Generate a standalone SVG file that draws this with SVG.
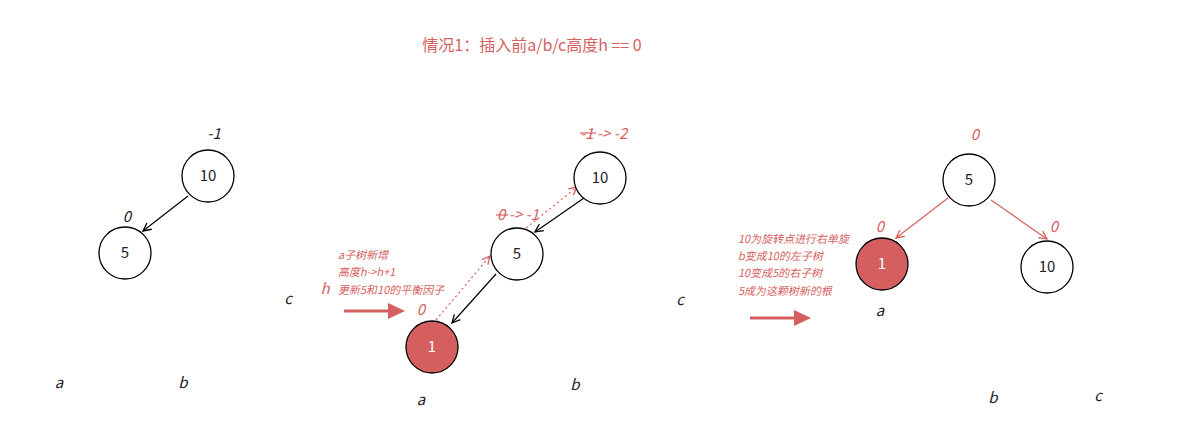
<svg xmlns="http://www.w3.org/2000/svg" width="1188" height="435" viewBox="0 0 1188 435">
<style>
text{font-family:"Noto Sans CJK SC","Noto Sans",sans-serif}
.n{fill:#fff;stroke:#000;stroke-width:1.3}
.r{fill:#d55f5f;stroke:#000;stroke-width:1.3}
.nt{font-size:15px;fill:#222;text-anchor:middle}
.rt{font-size:15px;fill:#fff;text-anchor:middle}
.bf{font-size:15px;font-style:italic;fill:#222;text-anchor:middle}
.rf{font-size:15px;font-style:italic;fill:#d55f5f;text-anchor:middle}
.rs{font-size:15px;font-style:italic;fill:#d55f5f;text-anchor:start}
.note{font-size:11px;fill:#d55f5f}
.ek{stroke:#000;stroke-width:1.2;fill:none}
.er{stroke:#d55f5f;stroke-width:1.2;fill:none}
.ed{stroke:#d55f5f;stroke-width:1.2;fill:none;stroke-dasharray:2 3}
.big{stroke:#d55f5f;stroke-width:3;fill:none}
</style>
<defs>
<marker id="ak" viewBox="0 0 10 10" refX="9" refY="5" markerWidth="10" markerHeight="10" orient="auto" markerUnits="userSpaceOnUse"><path d="M1,1 L9,5 L1,9" fill="none" stroke="#000" stroke-width="1.3"/></marker>
<marker id="ar" viewBox="0 0 10 10" refX="9" refY="5" markerWidth="10" markerHeight="10" orient="auto" markerUnits="userSpaceOnUse"><path d="M1,1 L9,5 L1,9" fill="none" stroke="#d55f5f" stroke-width="1.3"/></marker>
</defs>
<rect width="1188" height="435" fill="#fff"/>
<text x="532" y="51" font-size="16" fill="#d55f5f" text-anchor="middle">情况1：插入前a/b/c高度h == 0</text>

<g id="connectors">
<line class="ek" x1="188" y1="196" x2="143" y2="231" marker-end="url(#ak)"/>
<line class="ek" x1="584" y1="198" x2="535" y2="232" marker-end="url(#ak)"/>
<line class="ek" x1="496" y1="274" x2="452" y2="323" marker-end="url(#ak)"/>
<line class="ed" x1="436" y1="320" x2="490" y2="256" marker-end="url(#ar)"/>
<line class="ed" x1="526" y1="228" x2="577" y2="187" marker-end="url(#ar)"/>
<line class="er" x1="948" y1="198" x2="896" y2="238" marker-end="url(#ar)"/>
<line class="er" x1="991" y1="200" x2="1047" y2="239" marker-end="url(#ar)"/>
<line class="big" x1="344" y1="311" x2="390" y2="311"/>
<polygon points="388,303 405,311 388,319" fill="#d55f5f"/>
<line class="big" x1="750" y1="318" x2="796" y2="318"/>
<polygon points="794,310 811,318 794,326" fill="#d55f5f"/>
</g>

<g id="g1-n10"><circle class="n" cx="208" cy="176" r="26"/><text class="nt" x="208" y="181">10</text><text class="bf" x="214" y="139">-1</text></g>
<g id="g1-n5"><circle class="n" cx="125" cy="253" r="26"/><text class="nt" x="125" y="258">5</text><text class="bf" x="127" y="222">0</text></g>
<g id="g1-labels"><text class="bf" x="59" y="388">a</text><text class="bf" x="183" y="388">b</text><text class="bf" x="288" y="304">c</text></g>

<g id="g2-n10"><circle class="n" cx="600" cy="178" r="26"/><text class="nt" x="600" y="183">10</text>
<text class="rs" x="580" y="139">-1 -&gt; -2</text><line x1="580" y1="133" x2="596" y2="133" stroke="#d55f5f" stroke-width="1.2"/></g>
<g id="g2-n5"><circle class="n" cx="517" cy="254" r="26"/><text class="nt" x="517" y="259">5</text>
<text class="rs" x="497" y="220">0 -&gt; -1</text><line x1="496" y1="215" x2="508" y2="215" stroke="#d55f5f" stroke-width="1.2"/></g>
<g id="g2-n1"><circle class="r" cx="432" cy="347" r="26"/><text class="rt" x="432" y="352">1</text><text class="rf" x="421" y="315">0</text></g>
<g id="g2-labels">
<text class="note" transform="translate(338,259) skewX(-12)">a子树新增</text>
<text class="note" transform="translate(338,276) skewX(-12)">高度h-&gt;h+1</text>
<text class="note" transform="translate(338,294) skewX(-12)">更新5和10的平衡因子</text>
<text class="rf" x="325" y="294" font-size="17">h</text>
<text class="bf" x="421" y="405">a</text><text class="bf" x="575" y="390">b</text><text class="bf" x="680" y="305">c</text>
</g>

<g id="g3-n5"><circle class="n" cx="969" cy="180" r="26"/><text class="nt" x="969" y="185">5</text><text class="rf" x="975" y="140">0</text></g>
<g id="g3-n1"><circle class="r" cx="882" cy="264" r="26"/><text class="rt" x="882" y="269">1</text><text class="rf" x="880" y="232">0</text></g>
<g id="g3-n10"><circle class="n" cx="1047" cy="267" r="26"/><text class="nt" x="1047" y="272">10</text><text class="rf" x="1054" y="232">0</text></g>
<g id="g3-labels">
<text class="note" transform="translate(738,243) skewX(-12)">10为旋转点进行右单旋</text>
<text class="note" transform="translate(738,260) skewX(-12)">b变成10的左子树</text>
<text class="note" transform="translate(738,277) skewX(-12)">10变成5的右子树</text>
<text class="note" transform="translate(738,295) skewX(-12)">5成为这颗树新的根</text>
<text class="bf" x="880" y="316">a</text><text class="bf" x="993" y="403">b</text><text class="bf" x="1098" y="401">c</text>
</g>
</svg>
